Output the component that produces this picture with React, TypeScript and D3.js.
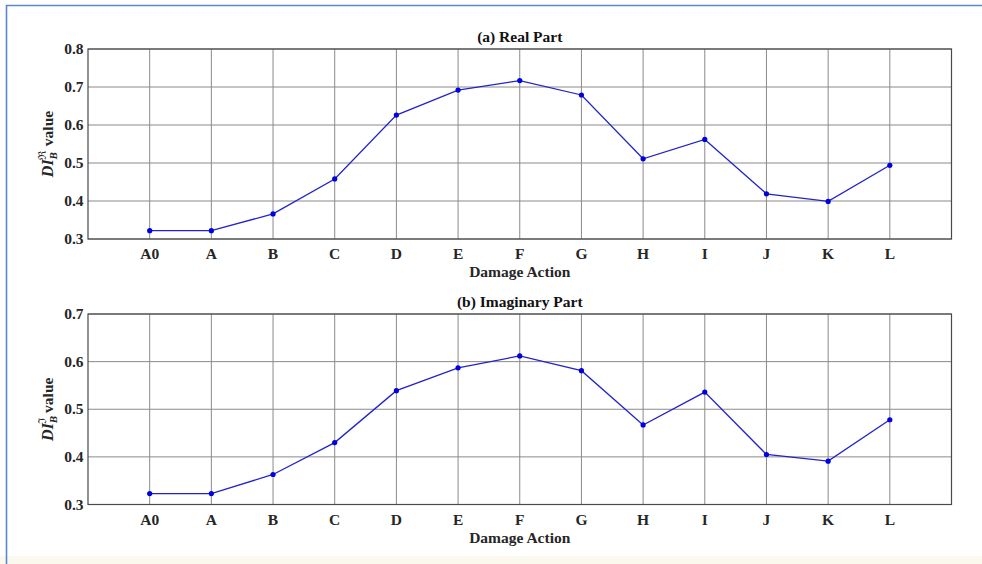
import React, { useEffect, useRef } from 'react';
import * as d3 from 'd3';

const actions = ['A0', 'A', 'B', 'C', 'D', 'E', 'F', 'G', 'H', 'I', 'J', 'K', 'L'];
const realValues = [0.322, 0.322, 0.366, 0.458, 0.626, 0.692, 0.717, 0.679, 0.511, 0.562, 0.419, 0.399, 0.494];
const imagValues = [0.323, 0.323, 0.363, 0.430, 0.539, 0.587, 0.612, 0.581, 0.467, 0.536, 0.405, 0.391, 0.478];
const realTicks = [0.3, 0.4, 0.5, 0.6, 0.7, 0.8];
const imagTicks = [0.3, 0.4, 0.5, 0.6, 0.7];

const W = 982;
const H = 564;
const FONT = '"Liberation Serif", "Times New Roman", serif';
const FS = 15.5;

export default function App() {
    const ref = useRef<SVGSVGElement>(null);

    useEffect(() => {
        const svg = d3.select(ref.current);
        svg.selectAll('*').remove();

        svg.append('rect').attr('width', W).attr('height', H).attr('fill', '#fff');
        // faint strip at the bottom and blue frame like the screenshot
        svg.append('rect').attr('x', 0).attr('y', 556).attr('width', W).attr('height', 8).attr('fill', '#fbf9ee');
        svg.append('path')
            .attr('d', `M6.5,${H} L6.5,5.5 L${W},5.5`)
            .attr('fill', 'none')
            .attr('stroke', '#5a87d2')
            .attr('stroke-width', 1.6);

        const x = d3.scaleLinear().domain([0, actions.length + 1]).range([88, 951.5]);

        const panels = [
            { title: '(a) Real Part', values: realValues, ticks: realTicks, top: 49, bottom: 239, sym: '\u211C' },
            { title: '(b) Imaginary Part', values: imagValues, ticks: imagTicks, top: 314, bottom: 504.5, sym: '\u2111' },
        ];

        panels.forEach((p) => {
            const y = d3.scaleLinear()
                .domain([p.ticks[0], p.ticks[p.ticks.length - 1]])
                .range([p.bottom, p.top]);
            const g = svg.append('g');

            // grid
            g.selectAll('.vgrid')
                .data(actions)
                .enter()
                .append('line')
                .attr('x1', (d, i) => x(i + 1))
                .attr('x2', (d, i) => x(i + 1))
                .attr('y1', p.top)
                .attr('y2', p.bottom)
                .attr('stroke', '#8a8a8a')
                .attr('stroke-width', 1);
            g.selectAll('.hgrid')
                .data(p.ticks)
                .enter()
                .append('line')
                .attr('x1', x.range()[0])
                .attr('x2', x.range()[1])
                .attr('y1', (d) => y(d))
                .attr('y2', (d) => y(d))
                .attr('stroke', '#8a8a8a')
                .attr('stroke-width', 1);

            // box
            g.append('rect')
                .attr('x', x.range()[0])
                .attr('y', p.top)
                .attr('width', x.range()[1] - x.range()[0])
                .attr('height', p.bottom - p.top)
                .attr('fill', 'none')
                .attr('stroke', '#4a4a4a')
                .attr('stroke-width', 1.2);

            // y tick labels
            g.selectAll('.ytl')
                .data(p.ticks)
                .enter()
                .append('text')
                .attr('x', 83.5)
                .attr('y', (d) => y(d) + 5)
                .attr('text-anchor', 'end')
                .attr('font-family', FONT)
                .attr('font-weight', 'bold')
                .attr('font-size', FS)
                .attr('fill', '#262626')
                .text((d) => d.toFixed(1));

            // x tick labels
            g.selectAll('.xtl')
                .data(actions)
                .enter()
                .append('text')
                .attr('x', (d, i) => x(i + 1))
                .attr('y', p.bottom + 20)
                .attr('text-anchor', 'middle')
                .attr('font-family', FONT)
                .attr('font-weight', 'bold')
                .attr('font-size', FS)
                .attr('fill', '#262626')
                .text((d) => d);

            g.append('text')
                .attr('x', (x.range()[0] + x.range()[1]) / 2)
                .attr('y', p.bottom + 38)
                .attr('text-anchor', 'middle')
                .attr('font-family', FONT)
                .attr('font-weight', 'bold')
                .attr('font-size', FS)
                .attr('fill', '#262626')
                .text('Damage Action');

            g.append('text')
                .attr('x', (x.range()[0] + x.range()[1]) / 2)
                .attr('y', p.top - 7)
                .attr('text-anchor', 'middle')
                .attr('font-family', FONT)
                .attr('font-weight', 'bold')
                .attr('font-size', FS)
                .attr('fill', '#111')
                .text(p.title);

            // y label: DI_B^sym value
            const yl = g.append('text')
                .attr('transform', `translate(53,${(p.top + p.bottom) / 2}) rotate(-90)`)
                .attr('text-anchor', 'middle')
                .attr('font-family', FONT)
                .attr('font-weight', 'bold')
                .attr('font-size', FS)
                .attr('fill', '#262626');
            yl.append('tspan').attr('font-style', 'italic').attr('font-size', 16).text('DI');
            yl.append('tspan').attr('font-style', 'italic').attr('font-size', 11).attr('dy', 4).text('B');
            yl.append('tspan').attr('font-size', 11).attr('font-weight', 'normal').attr('dx', -8).attr('dy', -11).text(p.sym);
            yl.append('tspan').attr('dx', 1).attr('dy', 7).text(' value');

            // series
            const line = d3.line<number>()
                .x((d, i) => x(i + 1))
                .y((d) => y(d));
            g.append('path')
                .datum(p.values)
                .attr('d', line)
                .attr('fill', 'none')
                .attr('stroke', '#2323c8')
                .attr('stroke-width', 1.3);
            g.selectAll('.pt')
                .data(p.values)
                .enter()
                .append('circle')
                .attr('cx', (d, i) => x(i + 1))
                .attr('cy', (d) => y(d))
                .attr('r', 2.6)
                .attr('fill', '#0000e0');
        });
    }, []);

    return (
        <svg ref={ref} width={W} height={H} style={{ position: 'absolute', left: 0, top: 0 }} />
    );
}
